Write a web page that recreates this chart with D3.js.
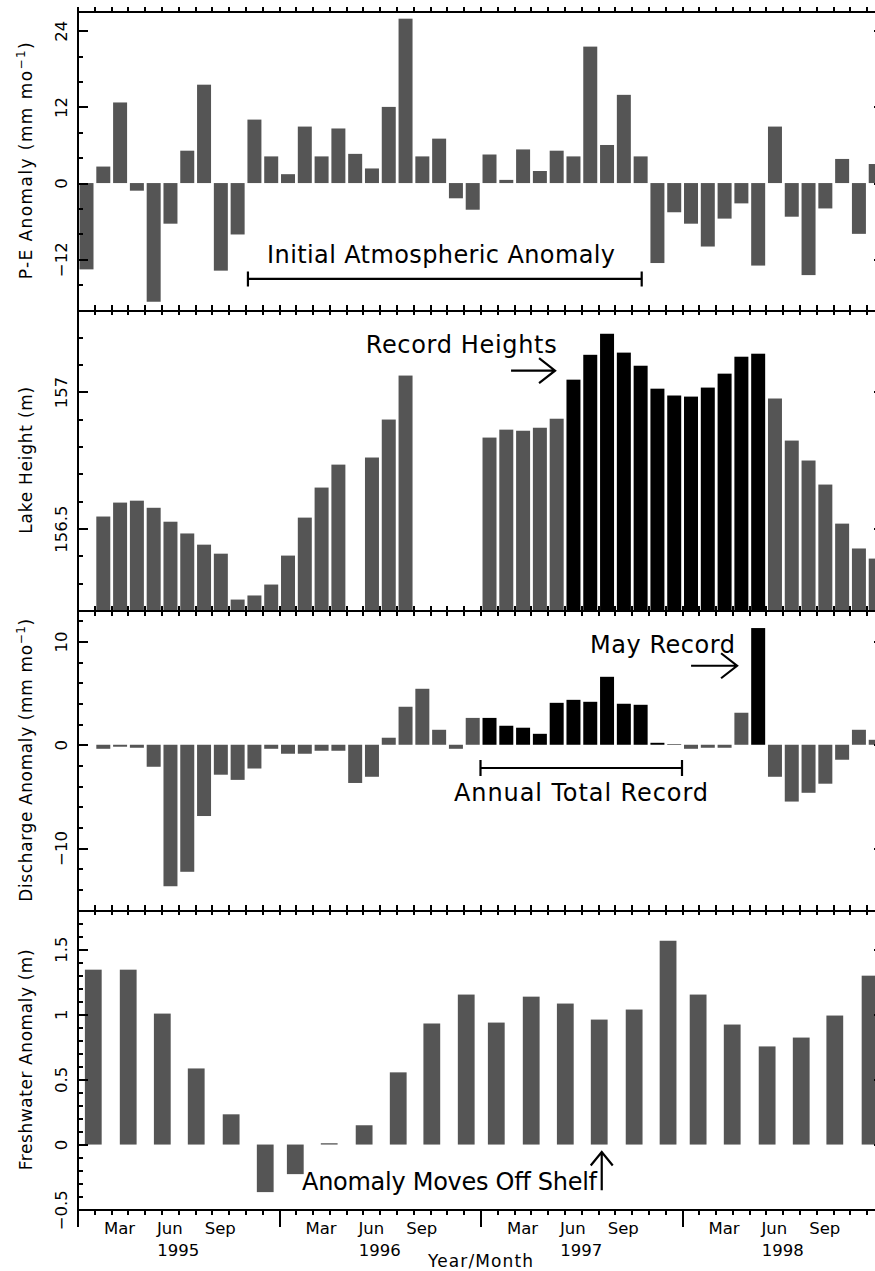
<!DOCTYPE html>
<meta charset="UTF-8">
<style>

    body {
        margin: 0;
        background: #fff;
    }

    text {
        font-family: "DejaVu Sans", sans-serif;
        fill: #000;
    }

    .bar { fill: #555555; }
    .bar.record { fill: #000; }

    .axis path, .axis line {
        stroke: #000;
        shape-rendering: crispEdges;
    }
    .axis path { stroke-width: 2px; }
    .axis line { stroke-width: 2px; }

    .mark {
        fill: none;
        stroke: #000;
        stroke-width: 2.2px;
    }

</style>

<body>

    <!-- load the d3.js library -->
    <script src="https://d3js.org/d3.v7.min.js"></script>

    <script>

        // ---- data (month index 0 = Jan 1995) ----
        var years = [1995, 1996, 1997, 1998];
        var monthLabels = ["Mar", "Jun", "Sep"];
        var monthLabelIndex = [2, 5, 8];

        // P-E anomaly (mm/month)
        var peAnomaly = [
            -13.6, 2.6, 12.7, -1.2, -18.7, -6.4, 5.1, 15.5, -13.8, -8.1, 10.0, 4.2,
            1.4, 8.9, 4.2, 8.6, 4.6, 2.3, 12.0, 25.9, 4.2, 7.0, -2.4, -4.2,
            4.5, 0.5, 5.3, 1.9, 5.1, 4.2, 21.5, 6.0, 13.9, 4.2, -12.6, -4.6,
            -6.4, -10.0, -5.6, -3.2, -13.0, 8.9, -5.3, -14.5, -4.0, 3.8, -8.0, 3.0
        ];

        // lake height (m), null = no data
        var lakeHeight = [
            null, 156.544, 156.595, 156.602, 156.576, 156.525, 156.482, 156.441, 156.408, 156.240, 156.255, 156.295,
            156.401, 156.540, 156.650, 156.734, null, 156.760, 156.899, 157.060, null, null, null, null,
            156.833, 156.862, 156.858, 156.869, 156.902, 157.045, 157.136, 157.213, 157.144, 157.096, 157.012, 156.987,
            156.983, 157.016, 157.067, 157.129, 157.140, 156.976, 156.822, 156.749, 156.661, 156.518, 156.427, 156.390
        ];
        var lakeRecordMonths = [29, 30, 31, 32, 33, 34, 35, 36, 37, 38, 39, 40];

        // discharge anomaly (mm/month)
        var discharge = [
            null, -0.39, -0.19, -0.29, -2.13, -13.7, -12.3, -6.9, -2.9, -3.4, -2.3, -0.39,
            -0.87, -0.87, -0.58, -0.58, -3.7, -3.1, 0.68, 3.68, 5.42, 1.45, -0.39, 2.6,
            2.6, 1.84, 1.65, 1.06, 4.06, 4.35, 4.16, 6.58, 3.97, 3.87, 0.19, 0.05,
            -0.39, -0.29, -0.29, 3.1, 11.3, -3.1, -5.5, -4.65, -3.77, -1.45, 1.45, 0.48
        ];
        var dischargeRecordMonths = [24, 25, 26, 27, 28, 29, 30, 31, 32, 33, 34, 35, 40];

        // freshwater anomaly (m), bi-monthly, time in months since Jan 1995
        var freshTime = [
            0.94, 3.02, 5.05, 7.07, 9.15, 11.18,
            12.97, 14.99, 17.07, 19.1, 21.1, 23.15,
            24.94, 27.02, 29.05, 31.07, 33.15, 35.17,
            36.96, 38.99, 41.07, 43.1, 45.1, 47.2
        ];
        var freshwater = [
            1.342, 1.342, 1.005, 0.584, 0.232, -0.365,
            -0.227, 0.010, 0.148, 0.554, 0.929, 1.151,
            0.936, 1.135, 1.082, 0.959, 1.036, 1.564,
            1.151, 0.921, 0.753, 0.821, 0.990, 1.296
        ];

        // ---- layout ----
        var width = 875, height = 1271;
        var left = 77.5, right = 883.5;   // right edge falls just outside the picture

        var svg = d3.select("body").append("svg")
            .attr("width", width)
            .attr("height", height);

        var x = d3.scaleLinear().domain([0, 48]).range([left, right]);
        var monthW = x(1) - x(0);

        var panels = [
            { top: 11.7, bottom: 310, domain: [-20, 27], major: [-12, 0, 12, 24], minor: d3.range(-16, 27, 4),
              title: ["P-E Anomaly (mm mo", "\u22121", ")"], titleLen: 237 },
            { top: 310, bottom: 610.5, domain: [156.2, 157.3], major: [156.5, 157], minor: d3.range(156.3, 157.25, 0.1),
              title: ["Lake Height (m)"], titleLen: 147 },
            { top: 610.5, bottom: 910, domain: [-16, 13], major: [-10, 0, 10], minor: d3.range(-14, 13, 2),
              title: ["Discharge Anomaly (mm mo", "\u22121", ")"], titleLen: 283 },
            { top: 910, bottom: 1209.7, domain: [-0.5, 1.8], major: [-0.5, 0, 0.5, 1, 1.5], minor: d3.range(-0.4, 1.75, 0.1),
              title: ["Freshwater Anomaly (m)"], titleLen: 221 }
        ];

        panels.forEach(function(p) {
            p.y = d3.scaleLinear().domain(p.domain).range([p.bottom, p.top]);
        });

        var y1 = panels[0].y, y2 = panels[1].y, y3 = panels[2].y, y4 = panels[3].y;

        // ---- bars ----
        function monthBars(values, yScale, recordMonths, fromBottom, bottom) {
            var data = values.map(function(v, i) { return { i: i, v: v }; })
                .filter(function(d) { return d.v !== null; });
            svg.append("g").selectAll("rect")
                .data(data)
                .enter().append("rect")
                .attr("class", function(d) { return recordMonths.indexOf(d.i) >= 0 ? "bar record" : "bar"; })
                .attr("x", function(d) { return x(d.i + 0.12); })
                .attr("width", monthW * 0.833)
                .attr("y", function(d) { return fromBottom ? yScale(d.v) : Math.min(yScale(d.v), yScale(0)); })
                .attr("height", function(d) {
                    return fromBottom ? bottom - yScale(d.v) : Math.abs(yScale(d.v) - yScale(0));
                });
        }

        monthBars(peAnomaly, y1, [], false);
        monthBars(lakeHeight, y2, lakeRecordMonths, true, panels[1].bottom);
        monthBars(discharge, y3, dischargeRecordMonths, false);

        svg.append("g").selectAll("rect")
            .data(freshwater)
            .enter().append("rect")
            .attr("class", "bar")
            .attr("x", function(d, i) { return x(freshTime[i] - 0.5); })
            .attr("width", monthW)
            .attr("y", function(d) { return Math.min(y4(d), y4(0)); })
            .attr("height", function(d) { return Math.abs(y4(d) - y4(0)); });

        // ---- axes ----
        var monthTicks = d3.range(0, 49);

        panels.forEach(function(p, k) {
            // top and bottom month ticks, pointing outward
            svg.append("g").attr("class", "axis")
                .attr("transform", "translate(0," + p.top + ")")
                .call(d3.axisTop(x).tickValues(monthTicks).tickSize(5).tickSizeOuter(0).tickFormat(""));
            svg.append("g").attr("class", "axis")
                .attr("transform", "translate(0," + p.bottom + ")")
                .call(d3.axisBottom(x).tickValues(monthTicks).tickSize(5).tickSizeOuter(0).tickFormat(""));

            // left axis: minor ticks, then major ticks with rotated labels
            svg.append("g").attr("class", "axis")
                .attr("transform", "translate(" + left + ",0)")
                .call(d3.axisLeft(p.y).tickValues(p.minor).tickSize(-5).tickSizeOuter(0).tickFormat(""));
            var la = svg.append("g").attr("class", "axis")
                .attr("transform", "translate(" + left + ",0)")
                .call(d3.axisLeft(p.y).tickValues(p.major).tickSize(-10).tickSizeOuter(0).tickFormat(d3.format("")));
            la.select(".domain").remove();
            la.selectAll("text")
                .attr("x", null)
                .attr("dy", null)
                .attr("text-anchor", "middle")
                .attr("transform", "translate(-11,0) rotate(-90)")
                .style("font-family", "DejaVu Sans")
                .style("font-size", "16.5px");

            // right axis (mostly outside the picture)
            svg.append("g").attr("class", "axis")
                .attr("transform", "translate(" + right + ",0)")
                .call(d3.axisRight(p.y).tickValues(p.minor).tickSize(-5).tickSizeOuter(0).tickFormat(""));
            svg.append("g").attr("class", "axis")
                .attr("transform", "translate(" + right + ",0)")
                .call(d3.axisRight(p.y).tickValues(p.major).tickSize(-10).tickSizeOuter(0).tickFormat(""));

            // y title
            var cy = (p.top + p.bottom) / 2;
            var t = svg.append("text")
                .attr("transform", "translate(32," + cy + ") rotate(-90)")
                .attr("text-anchor", "middle")
                .attr("textLength", p.titleLen)
                .attr("lengthAdjust", "spacing")
                .style("font-size", "17px");
            t.append("tspan").text(p.title[0]);
            if (p.title.length > 1) {
                t.append("tspan").attr("dy", -7).style("font-size", "12px").text(p.title[1]);
                t.append("tspan").attr("dy", 7).text(p.title[2]);
            }
        });

        // long year ticks on the bottom axis
        var bottom = panels[3].bottom;
        svg.append("g").attr("class", "axis")
            .attr("transform", "translate(0," + bottom + ")")
            .call(d3.axisBottom(x).tickValues([0, 12, 24, 36, 48]).tickSize(17).tickSizeOuter(0).tickFormat(""))
            .select(".domain").remove();

        // month and year labels
        years.forEach(function(yr, k) {
            monthLabelIndex.forEach(function(m, j) {
                svg.append("text")
                    .attr("x", x(k * 12 + m + 0.5))
                    .attr("y", 1234)
                    .attr("text-anchor", "middle")
                    .style("font-size", "16.5px")
                    .text(monthLabels[j]);
            });
            svg.append("text")
                .attr("x", x(k * 12 + 6))
                .attr("y", 1256)
                .attr("text-anchor", "middle")
                .style("font-size", "16.5px")
                .text(yr);
        });

        svg.append("text")
            .attr("x", x(24))
            .attr("y", 1267)
            .attr("text-anchor", "middle")
            .attr("textLength", 105)
            .attr("lengthAdjust", "spacing")
            .style("font-size", "17px")
            .text("Year/Month");

        // ---- annotations ----
        function label(txt, xm, yPix, len) {
            svg.append("text")
                .attr("x", x(xm))
                .attr("y", yPix)
                .attr("textLength", len)
                .attr("lengthAdjust", "spacing")
                .style("font-size", "24px")
                .text(txt);
        }

        function bracket(m0, m1, yPix, cap) {
            var a = x(m0), b = x(m1);
            svg.append("path").attr("class", "mark")
                .attr("d", "M" + a + "," + yPix + "H" + b +
                    "M" + a + "," + (yPix - cap) + "V" + (yPix + cap) +
                    "M" + b + "," + (yPix - cap) + "V" + (yPix + cap));
        }

        function arrowRight(m0, m1, yPix) {
            var a = x(m0), b = x(m1);
            svg.append("path").attr("class", "mark")
                .attr("d", "M" + a + "," + yPix + "H" + b +
                    "M" + (b - 16) + "," + (yPix - 12.5) + "L" + b + "," + yPix + "L" + (b - 16) + "," + (yPix + 12.5));
        }

        // panel 1
        label("Initial Atmospheric Anomaly", 11.29, 263, 348);
        bracket(10.15, 33.6, y1(-15.1), 7.5);

        // panel 2
        label("Record Heights", 17.16, 352.7, 191);
        arrowRight(25.82, 28.44, y2(157.078));

        // panel 3
        label("May Record", 30.52, 653, 145);
        arrowRight(36.54, 39.28, y3(7.65));
        bracket(24, 36, y3(-2.25), 8);
        label("Annual Total Record", 22.42, 800.7, 254);

        // panel 4
        label("Anomaly Moves Off Shelf", 13.37, 1190, 295);
        var ax = x(31.22), ay0 = y4(-0.35), ay1 = y4(-0.057);
        svg.append("path").attr("class", "mark")
            .attr("d", "M" + ax + "," + ay0 + "V" + ay1 +
                "M" + (ax - 11) + "," + (ay1 + 13.5) + "L" + ax + "," + ay1 + "L" + (ax + 11) + "," + (ay1 + 13.5));

    </script>

</body>
